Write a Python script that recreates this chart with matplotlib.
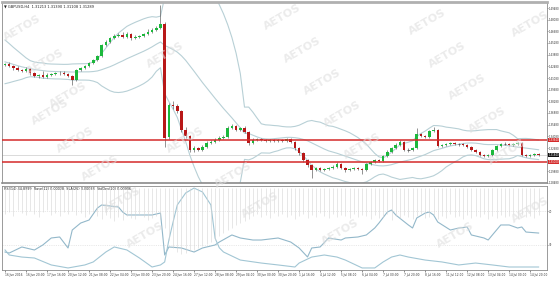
import matplotlib.pyplot as plt
import numpy as np
import pandas as pd

# GBPUSD H4 candles (16 Jun - 15 Jul 2016)
opens = [1.4260, 1.4276, 1.4252, 1.4228, 1.4204, 1.4192, 1.4216, 1.4168, 1.4132, 1.4144,
         1.4120, 1.4144, 1.4156, 1.4168, 1.4172, 1.4156, 1.4132, 1.4084, 1.4204, 1.4228,
         1.4252, 1.4288, 1.4324, 1.4372, 1.4504, 1.4540, 1.4588, 1.4612, 1.4624, 1.4600,
         1.4636, 1.4588, 1.4600, 1.4612, 1.4636, 1.4660, 1.4684, 1.4708, 1.4756, 1.3400,
         1.3784, 1.3772, 1.3712, 1.3484, 1.3412, 1.3244, 1.3268, 1.3244, 1.3280, 1.3328,
         1.3340, 1.3364, 1.3388, 1.3400, 1.3508, 1.3532, 1.3484, 1.3508, 1.3460, 1.3328,
         1.3364, 1.3376, 1.3364, 1.3352, 1.3364, 1.3352, 1.3364, 1.3352, 1.3376, 1.3340,
         1.3268, 1.3208, 1.3124, 1.3064, 1.3004, 1.3028, 1.3004, 1.3016, 1.3028, 1.3040,
         1.3076, 1.3028, 1.3004, 1.3016, 1.3028, 1.3016, 1.3004, 1.3076, 1.3100, 1.3124,
         1.3112, 1.3172, 1.3220, 1.3268, 1.3304, 1.3340, 1.3244, 1.3244, 1.3268, 1.3436,
         1.3412, 1.3400, 1.3472, 1.3484, 1.3292, 1.3304, 1.3316, 1.3328, 1.3316, 1.3316,
         1.3304, 1.3280, 1.3244, 1.3220, 1.3184, 1.3172, 1.3184, 1.3244, 1.3292, 1.3316,
         1.3316, 1.3304, 1.3316, 1.3328, 1.3184, 1.3172, 1.3184, 1.3196]
closes = [1.4276, 1.4252, 1.4228, 1.4204, 1.4192, 1.4216, 1.4168, 1.4132, 1.4144, 1.4120,
          1.4144, 1.4156, 1.4168, 1.4172, 1.4156, 1.4132, 1.4084, 1.4204, 1.4228, 1.4252,
          1.4288, 1.4324, 1.4372, 1.4504, 1.4540, 1.4588, 1.4612, 1.4624, 1.4600, 1.4636,
          1.4588, 1.4600, 1.4612, 1.4636, 1.4660, 1.4684, 1.4708, 1.4756, 1.3388, 1.3784,
          1.3772, 1.3712, 1.3484, 1.3412, 1.3244, 1.3268, 1.3244, 1.3280, 1.3328, 1.3340,
          1.3364, 1.3388, 1.3400, 1.3508, 1.3532, 1.3484, 1.3508, 1.3460, 1.3328, 1.3364,
          1.3376, 1.3364, 1.3352, 1.3364, 1.3352, 1.3364, 1.3352, 1.3376, 1.3340, 1.3268,
          1.3208, 1.3124, 1.3064, 1.3004, 1.3028, 1.3004, 1.3016, 1.3028, 1.3040, 1.3076,
          1.3028, 1.3004, 1.3016, 1.3028, 1.3016, 1.3004, 1.3076, 1.3100, 1.3124, 1.3112,
          1.3172, 1.3220, 1.3268, 1.3304, 1.3340, 1.3244, 1.3244, 1.3268, 1.3436, 1.3412,
          1.3400, 1.3472, 1.3484, 1.3292, 1.3304, 1.3316, 1.3328, 1.3316, 1.3316, 1.3304,
          1.3280, 1.3244, 1.3220, 1.3184, 1.3172, 1.3184, 1.3244, 1.3292, 1.3316, 1.3316,
          1.3304, 1.3316, 1.3328, 1.3184, 1.3172, 1.3184, 1.3196, 1.3184]
highs = [1.4294, 1.4300, 1.4266, 1.4250, 1.4218, 1.4240, 1.4230, 1.4186, 1.4160, 1.4196,
         1.4170, 1.4172, 1.4184, 1.4190, 1.4188, 1.4170, 1.4150, 1.4220, 1.4246, 1.4270,
         1.4306, 1.4340, 1.4390, 1.4520, 1.4566, 1.4604, 1.4632, 1.4650, 1.4660, 1.4656,
         1.4650, 1.4620, 1.4630, 1.4654, 1.4700, 1.4704, 1.4730, 1.4990, 1.4780, 1.3810,
         1.3830, 1.3800, 1.3730, 1.3520, 1.3430, 1.3290, 1.3284, 1.3300, 1.3350, 1.3370,
         1.3384, 1.3410, 1.3420, 1.3530, 1.3560, 1.3546, 1.3526, 1.3530, 1.3476, 1.3384,
         1.3394, 1.3390, 1.3380, 1.3378, 1.3380, 1.3380, 1.3376, 1.3392, 1.3390, 1.3352,
         1.3280, 1.3220, 1.3140, 1.3080, 1.3046, 1.3040, 1.3034, 1.3044, 1.3060, 1.3096,
         1.3088, 1.3040, 1.3032, 1.3044, 1.3040, 1.3030, 1.3092, 1.3118, 1.3140, 1.3138,
         1.3190, 1.3240, 1.3286, 1.3326, 1.3360, 1.3352, 1.3266, 1.3286, 1.3508, 1.3454,
         1.3430, 1.3490, 1.3520, 1.3496, 1.3322, 1.3334, 1.3346, 1.3340, 1.3334, 1.3330,
         1.3318, 1.3292, 1.3256, 1.3234, 1.3198, 1.3200, 1.3260, 1.3308, 1.3334, 1.3336,
         1.3330, 1.3332, 1.3346, 1.3340, 1.3196, 1.3200, 1.3210, 1.3208]
lows = [1.4248, 1.4240, 1.4210, 1.4190, 1.4176, 1.4180, 1.4150, 1.4118, 1.4112, 1.4104,
        1.4108, 1.4130, 1.4140, 1.4150, 1.4140, 1.4116, 1.4030, 1.4070, 1.4190, 1.4214,
        1.4240, 1.4276, 1.4310, 1.4360, 1.4490, 1.4526, 1.4574, 1.4598, 1.4586, 1.4588,
        1.4570, 1.4576, 1.4590, 1.4600, 1.4620, 1.4646, 1.4670, 1.4696, 1.3280, 1.3380,
        1.3740, 1.3690, 1.3460, 1.3390, 1.3220, 1.3226, 1.3228, 1.3230, 1.3266, 1.3312,
        1.3326, 1.3350, 1.3372, 1.3390, 1.3494, 1.3470, 1.3470, 1.3446, 1.3310, 1.3316,
        1.3350, 1.3350, 1.3340, 1.3340, 1.3338, 1.3340, 1.3336, 1.3340, 1.3326, 1.3250,
        1.3190, 1.3104, 1.3046, 1.2910, 1.2990, 1.2988, 1.2990, 1.3002, 1.3014, 1.3026,
        1.3012, 1.2986, 1.2990, 1.3004, 1.3000, 1.2960, 1.2990, 1.3060, 1.3088, 1.3096,
        1.3100, 1.3160, 1.3206, 1.3254, 1.3290, 1.3230, 1.3226, 1.3230, 1.3256, 1.3396,
        1.3386, 1.3388, 1.3460, 1.3276, 1.3278, 1.3290, 1.3302, 1.3300, 1.3298, 1.3290,
        1.3266, 1.3230, 1.3206, 1.3170, 1.3156, 1.3160, 1.3172, 1.3230, 1.3280, 1.3300,
        1.3290, 1.3292, 1.3304, 1.3168, 1.3158, 1.3164, 1.3176, 1.3172]
# closes before the first visible bar, needed for the Bollinger(20) warm-up
prior_closes = [1.4560, 1.4540, 1.4500, 1.4470, 1.4440, 1.4390, 1.4330, 1.4280, 1.4250, 1.4270,
                1.4220, 1.4200, 1.4180, 1.4210, 1.4150, 1.4120, 1.4180, 1.4220, 1.4250]

level_hi = 1.3364
level_lo = 1.3100

price_ticks = [1.49480, 1.48080, 1.46680, 1.45280, 1.43880, 1.42480, 1.41080, 1.39680,
               1.38280, 1.36880, 1.35480, 1.34080, 1.32680, 1.29880, 1.28480]

date_bars = [0, 5, 10, 15, 20, 25, 30, 35, 40, 45, 50, 55, 60, 65, 70, 75, 80, 85, 90,
             95, 100, 105, 110, 115, 120, 125]
date_labels = ["16 Jun 2016", "16 Jun 20:00", "17 Jun 16:00", "20 Jun 12:00", "21 Jun 08:00",
               "22 Jun 04:00", "23 Jun 00:00", "23 Jun 20:00", "24 Jun 16:00", "27 Jun 12:00",
               "28 Jun 08:00", "29 Jun 04:00", "30 Jun 00:00", "30 Jun 20:00", "1 Jul 16:00",
               "4 Jul 12:00", "5 Jul 08:00", "6 Jul 04:00", "7 Jul 00:00", "7 Jul 20:00",
               "8 Jul 16:00", "11 Jul 12:00", "12 Jul 08:00", "13 Jul 04:00", "14 Jul 00:00",
               "14 Jul 20:00"]

# lower window: RSI line
rsi_bars = [0, 1, 4, 7, 9, 11, 13, 15, 16, 18, 20, 22, 23, 27, 28, 29, 32, 35, 37, 38,
            39, 42, 45, 47, 50, 51, 54, 56, 59, 61, 65, 68, 70, 72, 73, 75, 77, 80, 81, 84,
            86, 88, 89, 91, 92, 93, 96, 97, 98, 100, 101, 102, 103, 106, 108, 110, 111, 114,
            115, 116, 118, 120, 122, 123, 124, 127]
rsi_vals = [21.4, 20.2, 27.4, 23.8, 29.8, 38.1, 39.3, 26.2, 47.6, 55.9, 59.5, 73.8, 77.4,
            75.0, 69.0, 65.5, 65.5, 65.5, 67.8, 17.9, 27.4, 26.2, 21.4, 26.2, 29.8, 33.3,
            41.7, 38.1, 35.7, 35.7, 38.1, 33.3, 26.2, 15.5, 26.2, 27.4, 38.1, 35.7, 38.1,
            39.3, 41.7, 50.0, 55.9, 69.0, 71.4, 65.5, 53.6, 50.0, 61.9, 67.8, 69.0, 65.5,
            57.1, 47.6, 50.0, 51.2, 41.7, 38.1, 35.7, 41.7, 53.6, 53.6, 50.0, 51.2, 45.2, 44.0]
# lower window: StdDev line
sd_bars = [0, 1, 4, 7, 11, 15, 19, 21, 24, 26, 29, 32, 35, 37, 38, 39, 40, 41, 43, 45,
           47, 49, 50, 51, 52, 56, 61, 65, 69, 70, 73, 76, 79, 81, 85, 88, 90, 92, 94, 96,
           100, 104, 108, 112, 116, 120, 126, 127]
sd_vals = [0.0242, 0.0200, 0.0183, 0.0175, 0.0117, 0.0092, 0.0117, 0.0142, 0.0225, 0.0267,
           0.0242, 0.0175, 0.0100, 0.0117, 0.0142, 0.0325, 0.0475, 0.0617, 0.0717, 0.0758,
           0.0725, 0.0617, 0.0340, 0.0260, 0.0225, 0.0158, 0.0133, 0.0117, 0.0100, 0.0133,
           0.0183, 0.0200, 0.0183, 0.0158, 0.0092, 0.0092, 0.0142, 0.0183, 0.0200, 0.0183,
           0.0158, 0.0142, 0.0117, 0.0133, 0.0117, 0.0100, 0.0100, 0.0100]
# lower window: histogram (one per bar)
hist_vals = [26, 24, 28, 22, 25, 27, 23, 26, 29, 24, 22, 27, 25, 28, 24, 26, 23, 27, 25, 29, 26, 24,
             28, 31, 27, 30, 33, 29, 32, 28, 30, 31, 27, 29, 32, 30, 28, 31,
             40, 52, 60, 64, 66, 65, 63, 62, 60, 58, 56, 54, 52, 48, 45, 42, 40, 37, 35, 33, 31,
             28, 26, 29, 27, 30, 25, 28, 26, 29, 27, 31, 28, 26, 30, 27, 29, 25, 28, 30, 26, 29,
             27, 28, 30, 26, 29, 27,
             28, 31, 27, 30, 29, 26, 32, 28, 30, 27, 29, 31, 28, 26, 30, 29, 27, 31, 28, 30, 26,
             29, 28, 31, 27, 30, 28, 29, 26, 31, 28, 30, 27, 29, 28, 26, 30, 27, 29, 28, 30, 27]

watermarks = [(22, 28), (45, 62), (68, 95), (50, 112), (75, 140), (100, 168), (122, 200),
              (145, 235), (165, 55), (185, 140), (233, 175), (260, 205), (282, 17), (302, 50),
              (322, 82), (342, 114), (362, 146), (340, 232), (427, 22), (447, 55), (467, 87),
              (487, 120), (507, 152), (455, 235), (530, 210), (530, 24)]

W, H = 560, 282
fig = plt.figure(figsize=(W / 100, H / 100), dpi=100)
ax = fig.add_axes([2 / W, 1 - 183 / H, 545 / W, 181 / H])
ax2 = fig.add_axes([2 / W, 1 - 270 / H, 545 / W, 84 / H])
# extra scales in the indicator window (create before styling ax2's ticks)
ax3 = ax2.twinx()
ax4 = ax2.twinx()

n = len(closes)
x = np.arange(n)
green, red = "#1cb83c", "#b81818"
wick = "#555555"

# Bollinger bands (20, 2)
s = pd.Series(prior_closes + closes)
mid = s.rolling(20).mean().values[-n:]
sd = s.rolling(20).std(ddof=0).values[-n:]
band = "#b8d0d6"
for line in (mid, mid + 2 * sd, mid - 2 * sd):
    ax.plot(x, line, color=band, lw=0.8, zorder=1)

ax.vlines(x, lows, highs, color=wick, lw=0.45, zorder=2)
for i in range(n):
    o, c = opens[i], closes[i]
    if o == c:
        ax.hlines(c, i - 0.3, i + 0.3, color=wick, lw=0.6, zorder=3)
    else:
        ax.bar(i, abs(c - o), bottom=min(o, c), width=0.6,
               color=green if c > o else red, lw=0, zorder=3)

ax.axhline(level_hi, color="#d42a2a", lw=1.1, zorder=4)
ax.axhline(level_lo, color="#d42a2a", lw=1.1, zorder=4)
ax.axhline(closes[-1], color="#cccccc", lw=0.5, zorder=0)

xmin, xmax = -0.72, 129.0
ax.set_xlim(xmin, xmax)
ax.set_ylim(1.2848, 1.5020)
ax.yaxis.tick_right()
ax.set_yticks(price_ticks)
ax.set_yticklabels([f"{v:.5f}" for v in price_ticks])
ax.tick_params(axis="y", labelsize=1.9, length=0.8, pad=0.5, width=0.4, colors="#333333")
ax.set_xticks([])
for sp in ax.spines.values():
    sp.set_color("#8a8a8a")
    sp.set_linewidth(0.6)
ax.spines["top"].set_linewidth(2.0)
ax.spines["top"].set_color("#b0b0b0")
ax.spines["bottom"].set_linewidth(1.2)

for val, bg in ((level_hi, "#d42a2a"), (level_lo, "#d42a2a"), (closes[-1], "#111111")):
    ax.annotate(f"{val:.5f}", xy=(1, val), xycoords=("axes fraction", "data"),
                xytext=(1.0, 0), textcoords="offset points", fontsize=1.9, color="white",
                va="center", ha="left",
                bbox=dict(boxstyle="square,pad=0.15", fc=bg, ec="none"))

ax.text(0.004, 0.985, "\u25bc GBPUSD,H4  1.31213 1.31390 1.31108 1.31289",
        transform=ax.transAxes, fontsize=2.6, va="top", ha="left", color="#222222")

# lower window
ax3.set_ylim(0.0075, 0.0775)
ax3.plot(sd_bars, sd_vals, color="#a2c6d4", lw=0.8)
ax4.set_ylim(82, -2)
ax4.vlines(x, 0, hist_vals, color="#d4d4d4", lw=0.4)
for a in (ax3, ax4):
    a.set_yticks([])
    a.set_xlim(xmin, xmax)
    for sp in a.spines.values():
        sp.set_visible(False)

ax2.set_xlim(xmin, xmax)
ax2.set_ylim(0, 100)
ax2.axhline(70, color="#d6d6d6", lw=0.4, ls=(0, (2, 2)))
ax2.axhline(30, color="#d6d6d6", lw=0.4, ls=(0, (2, 2)))
ax2.plot(rsi_bars, rsi_vals, color="#93b8ca", lw=0.8, zorder=3)
ax2.yaxis.tick_right()
ax2.set_yticks([70, 30])
ax2.set_yticklabels(["70", "30"])
ax2.tick_params(axis="y", labelsize=1.9, length=0.8, pad=0.5, width=0.4, colors="#333333")
ax2.set_xticks(date_bars)
ax2.set_xticklabels(date_labels, ha="left")
ax2.tick_params(axis="x", labelsize=2.1, length=1.5, pad=1, width=0.4, colors="#333333")
for sp in ax2.spines.values():
    sp.set_color("#8a8a8a")
    sp.set_linewidth(0.6)

ax2.text(0.004, 0.985, "RSI(14) 44.8999  Base(12) 0.00028  SLA(26) 0.00038  StdDev(20) 0.00906",
         transform=ax2.transAxes, fontsize=2.4, va="top", ha="left", color="#222222", zorder=5)

for px, py in watermarks:
    fig.text(px / W, 1 - py / H, "AETOS", rotation=30, ha="center", va="center",
             fontsize=8, fontweight="bold", color="#dedede", alpha=0.6)

fig.savefig("out.png", dpi=100)
